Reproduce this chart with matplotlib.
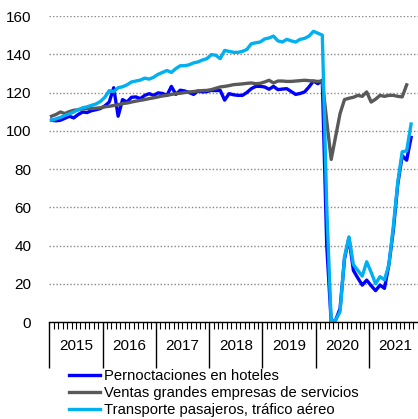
import numpy as np
import matplotlib.pyplot as plt
from matplotlib.ticker import MultipleLocator
import matplotlib.transforms as mtransforms

plt.rcParams['font.family'] = ['Liberation Sans', 'DejaVu Sans']

# indices mensuales, ene-2015 en adelante
hoteles = [105.5, 105.2, 105.5, 106.5, 107.6, 106.7, 108.5, 109.8, 109.5, 110.5, 111, 111.6,
           113, 115, 122.5, 107.6, 116.3, 115, 117.5, 117.7, 116.8, 118.5, 119.4, 118.5,
           119.8, 119.5, 118.5, 123.2, 119, 121.2, 120.8, 120, 119, 120.8, 120.3, 120.5,
           121.1, 121, 121.1, 116, 119.4, 118.8, 118.5, 118.5, 120, 122, 123.2, 123.2,
           122.9, 121.7, 123.2, 121.5, 121.8, 122, 120.5, 119, 119.5, 120.3, 122.9, 126,
           124.6, 126.4, 40, 0, 1, 7, 33, 44, 27, 23, 19.3, 21.9,
           19, 16.4, 19.3, 17.6, 30, 48, 72, 87, 84.6, 96.5]

servicios = [107.6, 108.5, 109.8, 109, 110, 110.7, 111, 111.5, 111.6, 111.6, 111.8, 112,
             112.5, 112.8, 113.2, 113.6, 114.2, 114.5, 115, 115.5, 115.9, 116.3, 116.8, 117.2,
             117.7, 118.2, 118.5, 119, 119.4, 119.6, 120, 120.3, 120.5, 120.8, 121, 121.1,
             121.5, 122.2, 122.9, 123.2, 123.6, 124.1, 124.3, 124.5, 124.8, 125, 124.6, 124.8,
             125.5, 126.4, 125, 126, 126, 125.8, 125.8, 126, 126.2, 126.4, 126.2, 126,
             125.8, 126, 105, 85, 97, 109, 116.3, 117, 117.5, 118.5, 118, 120.3,
             115, 116.5, 118.5, 118, 118.5, 118.5, 118, 117.7, 124]

aereo = [105.5, 106.2, 107, 108, 108.8, 109.8, 111, 112, 112.5, 113.3, 114, 115.3,
         117.5, 121, 120.5, 122.5, 123, 124, 125.5, 126, 126.5, 127.5, 127, 128,
         129.5, 130.5, 131.5, 130.5, 132.5, 134, 134, 134.5, 135.5, 136, 137, 137.7,
         139.8, 139.5, 137.7, 142, 141.5, 141, 141, 141.5, 142.5, 145.5, 146, 146.4,
         148, 148.5, 149.5, 147, 146.4, 147.8, 147, 146.4, 147.8, 148.3, 149.5, 152,
         151, 150, 60, 0, 1, 5.4, 34, 44.5, 30, 27, 24, 31.5,
         26, 20, 23.7, 22, 30, 50, 73, 89, 89.5, 103.5]

years = ['2015', '2016', '2017', '2018', '2019', '2020', '2021']
labels = ['Pernoctaciones en hoteles', 'Ventas grandes empresas de servicios',
          'Transporte pasajeros, tráfico aéreo']
colors = ['#0000FF', '#595959', '#00B0F0']

fig = plt.figure(figsize=(4.18, 4.19), dpi=100)
ax = fig.add_axes([0.118, 0.2315, 0.892, 0.7303])

for serie, lab, col in zip([hoteles, servicios, aereo], labels, colors):
    x = np.arange(len(serie)) + 0.5
    ax.plot(x, serie, color=col, lw=2.4, label=lab)

ax.set_xlim(0, 84)
ax.set_ylim(0, 160)
ax.set_yticks(np.arange(0, 161, 20))
ax.yaxis.grid(True, linestyle=(0, (1, 1.5)), color='#888888', lw=1)
ax.set_axisbelow(True)
for s in ['left', 'right', 'top']:
    ax.spines[s].set_visible(False)
ax.spines['bottom'].set_linewidth(1)
ax.spines['bottom'].set_zorder(5)

ax.xaxis.set_major_locator(MultipleLocator(12))
ax.xaxis.set_minor_locator(MultipleLocator(1))
ax.tick_params(axis='x', which='major', length=33, width=1, labelbottom=False)
ax.tick_params(axis='x', which='minor', length=5, width=0.8)
ax.tick_params(axis='y', length=0, pad=13, labelsize=11)

trans = mtransforms.blended_transform_factory(ax.transData, ax.transAxes)
for k, yr in enumerate(years):
    ax.text(6 + 12 * k, -0.078, yr, transform=trans, ha='center', va='center', fontsize=11)

fig.legend(loc='upper left', bbox_to_anchor=(0.165, 0.119), frameon=False, fontsize=10.6,
           handlelength=2.1, handletextpad=0.3, labelspacing=0.2, borderaxespad=0, borderpad=0)

fig.savefig('out.png', dpi=100)
